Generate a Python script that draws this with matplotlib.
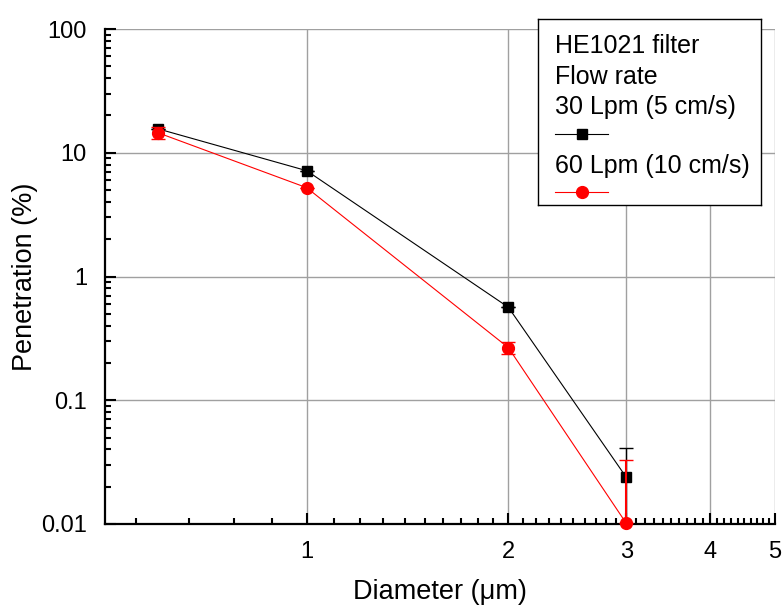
import numpy as np
import matplotlib
matplotlib.use('Agg')
import matplotlib.pyplot as plt
from matplotlib.ticker import FixedLocator, FixedFormatter, NullFormatter

plt.rcParams['font.family'] = ['Liberation Sans', 'DejaVu Sans']

# data
diam = [0.6, 1.0, 2.0, 3.0]
pen_30 = [15.6, 7.16, 0.564, 0.0238]
err_30_lo = [0.0, 0.0, 0.0, 0.017]
err_30_hi = [0.0, 0.0, 0.0, 0.017]
pen_60 = [14.5, 5.22, 0.266, 0.0101]
err_60_lo = [1.6, 0.0, 0.03, 0.0]
err_60_hi = [1.6, 0.0, 0.03, 0.023]

xticks = [1, 2, 3, 4, 5]
xticklabels = ['1', '2', '3', '4', '5']
yticks = [0.01, 0.1, 1, 10, 100]
yticklabels = ['0.01', '0.1', '1', '10', '100']
xminor = [5/9, 6/9, 7/9, 8/9] + [1 + k/10 for k in range(1, 10)] + \
    [2 + k/10 for k in range(1, 10)] + [3 + k/10 for k in range(1, 10)] + \
    [4 + k/10 for k in range(1, 10)]

W, H = 784, 609
fig = plt.figure(figsize=(W/100, H/100), dpi=100)
ax = fig.add_axes([105/W, 1-524/H, 670/W, 495/H])

ax.set_xscale('log')
ax.set_yscale('log')
ax.set_xlim(0.5, 5)
ax.set_ylim(0.01, 100)

ax.errorbar(diam, pen_30, yerr=[err_30_lo, err_30_hi], color='black',
            marker='s', ms=7.5, lw=0.8, capsize=5, elinewidth=1, capthick=1,
            zorder=3)
r = ax.errorbar(diam, pen_60, yerr=[err_60_lo, err_60_hi], color='red',
                marker='o', ms=8.5, lw=0.8, capsize=5, elinewidth=1.5,
                capthick=1, zorder=4)
r[0].set_clip_on(False)

ax.xaxis.set_major_locator(FixedLocator(xticks))
ax.xaxis.set_major_formatter(FixedFormatter(xticklabels))
ax.xaxis.set_minor_locator(FixedLocator(xminor))
ax.xaxis.set_minor_formatter(NullFormatter())
ax.yaxis.set_major_locator(FixedLocator(yticks))
ax.yaxis.set_major_formatter(FixedFormatter(yticklabels))
ax.yaxis.set_minor_locator(FixedLocator(
    [d * m for d in [0.01, 0.1, 1, 10] for m in range(2, 10)]))
ax.yaxis.set_minor_formatter(NullFormatter())

ax.grid(True, which='major', color='#a0a0a0', lw=1)
ax.set_axisbelow(True)
for s in ['top', 'right']:
    ax.spines[s].set_visible(False)
for s in ['left', 'bottom']:
    ax.spines[s].set_linewidth(1.6)

ax.tick_params(which='both', direction='in', width=1.5, labelsize=17)
ax.tick_params(which='major', length=8)
ax.tick_params(which='minor', length=4)
ax.tick_params(axis='x', pad=12)
ax.tick_params(axis='y', pad=13)

ax.set_xlabel('Diameter (\u03bcm)', fontsize=19.5, labelpad=12)
ax.set_ylabel('Penetration (%)', fontsize=19.5, labelpad=2)

# legend box drawn in pixel coordinates
lg = fig.add_axes([538/W, 1-205/H, 223/W, 186/H])
lg.set_xlim(0, 223)
lg.set_ylim(186, 0)
lg.set_xticks([])
lg.set_yticks([])
for s in lg.spines.values():
    s.set_linewidth(1)
lines = ['HE1021 filter', 'Flow rate', '30 Lpm (5 cm/s)', None,
         '60 Lpm (10 cm/s)', None]
ys = [27, 58, 88, 115, 147, 173]
for txt, y in zip(lines, ys):
    if txt is not None:
        lg.text(17, y, txt, fontsize=18, va='center', ha='left')
lg.plot([17, 44, 70], [115, 115, 115], color='black', lw=0.8, marker='s',
        ms=7.5, markevery=[1])
lg.plot([17, 44, 70], [173, 173, 173], color='red', lw=0.8, marker='o',
        ms=8.5, markevery=[1])

fig.savefig('out.png', dpi=100)
